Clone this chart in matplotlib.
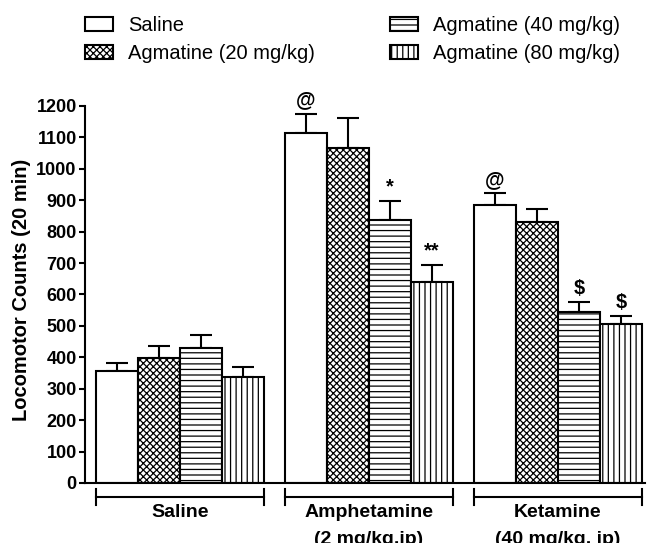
import matplotlib
matplotlib.use("Agg")
import matplotlib.pyplot as plt
from matplotlib.patches import Patch
import numpy as np

plt.rcParams['font.family'] = ['Liberation Sans', 'DejaVu Sans']
plt.rcParams['hatch.linewidth'] = 0.9

# --- data: mean locomotor counts (20 min) and SEM ---
groups = ['Saline', 'Amphetamine\n(2 mg/kg,ip)', 'Ketamine\n(40 mg/kg, ip)']
treatments = ['Saline', 'Agmatine (20 mg/kg)', 'Agmatine (40 mg/kg)', 'Agmatine (80 mg/kg)']

saline_means = [358, 398, 430, 337]
saline_sem = [25, 38, 40, 33]
amph_means = [1113, 1065, 838, 640]
amph_sem = [63, 98, 60, 54]
ket_means = [885, 830, 545, 507]
ket_sem = [38, 43, 30, 23]

# significance marks drawn above each bar ('' = none)
saline_marks = ['', '', '', '']
amph_marks = ['@', '', '*', '**']
ket_marks = ['@', '', '$', '$']

y_ticks = list(range(0, 1300, 100))

hatches = ['', 'xxxxx', '---', '|||']

means = [saline_means, amph_means, ket_means]
sems = [saline_sem, amph_sem, ket_sem]
marks = [saline_marks, amph_marks, ket_marks]

fig = plt.figure(figsize=(6.5, 5.43), dpi=100)
ax = fig.add_axes([0.1308, 0.1105, 0.8615, 0.6943])

group_step = 4.5
for g in range(len(groups)):
    xs = g * group_step + np.arange(4)
    ax.bar(xs, means[g], width=1.0, color='white', edgecolor='black',
           linewidth=1.5, hatch=hatches, zorder=2)
    ax.errorbar(xs, means[g], yerr=[[0] * 4, sems[g]], fmt='none',
                ecolor='black', elinewidth=1.5, capsize=8, capthick=1.5, zorder=1)
    for x, m, s, mk in zip(xs, means[g], sems[g], marks[g]):
        if mk:
            ax.annotate(mk, xy=(x, m + s), xytext=(0, 3), textcoords='offset points',
                        ha='center', va='bottom', fontsize=14.5, fontweight='bold')

    # bracket under each group with its label
    left, right = xs[0] - 0.5, xs[-1] + 0.5
    yb = -44.6
    ax.plot([left, right], [yb, yb], color='black', lw=1.5, clip_on=False)
    ax.plot([left, left], [yb - 24, yb + 24], color='black', lw=1.5, clip_on=False)
    ax.plot([right, right], [yb - 24, yb + 24], color='black', lw=1.5, clip_on=False)
    ax.annotate(groups[g], xy=(xs.mean(), 0), xycoords=('data', 'axes fraction'),
                xytext=(0, -15), textcoords='offset points', ha='center', va='top',
                fontsize=14, fontweight='bold', linespacing=1.8, annotation_clip=False)

ax.set_xlim(-0.76, 12.57)
ax.set_ylim(0, 1200)
ax.set_yticks(y_ticks)
ax.set_xticks([])
for lab in ax.get_yticklabels():
    lab.set_fontweight('bold')
ax.tick_params(axis='y', labelsize=13, length=4, width=1.5, pad=2)
for side in ['top', 'right']:
    ax.spines[side].set_visible(False)
for side in ['left', 'bottom']:
    ax.spines[side].set_linewidth(1.5)

fig.text(22 / 650, 1 - 290 / 543, 'Locomotor Counts (20 min)', rotation=90,
         ha='center', va='center', fontsize=14.5, fontweight='bold')

handles = [Patch(facecolor='white', edgecolor='black', linewidth=1.5, hatch=h) for h in hatches]
# two columns: Saline / Agmatine 20 on the left, Agmatine 40 / 80 on the right
fig.legend(handles, treatments, loc='upper left', bbox_to_anchor=(85 / 650, 1 - 16 / 543),
           ncol=2, frameon=False, fontsize=14.5, handlelength=1.4, handleheight=0.7,
           handletextpad=0.75, columnspacing=3.7, labelspacing=0.45,
           borderpad=0, borderaxespad=0)

fig.savefig('out.png', dpi=100)
